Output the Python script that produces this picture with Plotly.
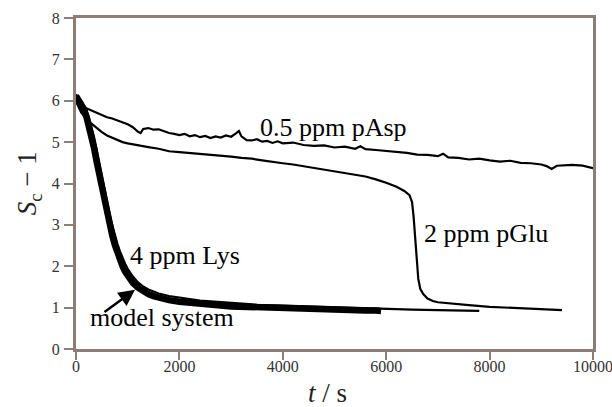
import plotly.graph_objects as go

# ---- data ----
pasp_t = [0, 50, 100, 200, 300, 400, 500, 600, 700, 800, 900, 1000, 1100, 1200, 1250, 1300, 1400, 1500,
          1600, 1700, 1800, 1900, 2000, 2100, 2200, 2300, 2400, 2500, 2600, 2700, 2800, 2900, 3000, 3100,
          3150, 3200, 3300, 3400, 3500, 3600, 3700, 3800, 3900, 4000, 4200, 4400, 4600, 4800, 5000, 5200,
          5400, 5500, 5600, 5800, 6000, 6200, 6400, 6600, 6800, 7000, 7100, 7200, 7400, 7600, 7800, 8000,
          8200, 8400, 8600, 8800, 9000, 9100, 9200, 9300, 9400, 9600, 9800, 10000]
pasp_v = [6.02, 5.95, 5.90, 5.82, 5.76, 5.70, 5.66, 5.60, 5.57, 5.52, 5.47, 5.43, 5.36, 5.25, 5.22, 5.32, 5.34, 5.30,
          5.31, 5.26, 5.22, 5.20, 5.17, 5.20, 5.14, 5.17, 5.12, 5.15, 5.10, 5.14, 5.11, 5.16, 5.13, 5.22,
          5.27, 5.14, 5.05, 5.04, 5.07, 5.01, 5.03, 4.98, 5.02, 4.97, 4.99, 4.93, 4.91, 4.92, 4.87, 4.89,
          4.84, 4.90, 4.83, 4.81, 4.79, 4.77, 4.74, 4.70, 4.69, 4.66, 4.72, 4.63, 4.62, 4.58, 4.60, 4.56,
          4.53, 4.55, 4.50, 4.49, 4.46, 4.42, 4.35, 4.43, 4.44, 4.45, 4.43, 4.37]

pglu_t = [0, 50, 100, 200, 300, 400, 500, 600, 700, 800, 900, 1000, 1200, 1400, 1600, 1800, 2000, 2200,
          2400, 2600, 2800, 3000, 3200, 3400, 3600, 3800, 4000, 4200, 4400, 4600, 4800, 5000, 5200, 5400,
          5600, 5800, 6000, 6200, 6350, 6450, 6500, 6530, 6560, 6590, 6620, 6660, 6720, 6800, 6900, 7000,
          7300, 7600, 8000, 8500, 9000, 9400]
pglu_v = [5.98, 5.85, 5.72, 5.55, 5.45, 5.33, 5.24, 5.16, 5.10, 5.05, 5.00, 4.97, 4.92, 4.88, 4.84, 4.78, 4.76, 4.74,
          4.72, 4.70, 4.68, 4.65, 4.62, 4.60, 4.56, 4.52, 4.49, 4.46, 4.42, 4.38, 4.34, 4.30, 4.26, 4.22,
          4.17, 4.10, 4.02, 3.92, 3.82, 3.72, 3.55, 3.20, 2.70, 2.15, 1.70, 1.45, 1.32, 1.22, 1.16, 1.13,
          1.09, 1.06, 1.02, 0.99, 0.96, 0.94]

model_t = [0, 50, 100, 150, 200, 250, 300, 350, 400, 450, 500, 550, 600, 650, 700, 750, 800, 850, 900, 950,
           1000, 1100, 1200, 1300, 1400, 1500, 1600, 1800, 2000, 2200, 2400, 2600, 2800, 3000, 3200, 3400,
           3600, 3800, 4000, 4200, 4400, 4600, 4800, 5000, 5200, 5400, 5600, 5800, 5900]
model_v = [6.12, 6.02, 5.92, 5.80, 5.62, 5.40, 5.15, 4.85, 4.52, 4.20, 3.88, 3.58, 3.28, 3.00, 2.75, 2.52, 2.32, 2.15, 2.00, 1.87,
           1.76, 1.60, 1.48, 1.39, 1.33, 1.28, 1.24, 1.18, 1.14, 1.11, 1.09, 1.07, 1.05, 1.03, 1.02, 1.01,
           1.00, 0.99, 0.98, 0.98, 0.97, 0.96, 0.96, 0.95, 0.94, 0.94, 0.93, 0.93, 0.92]

lys_t = [0, 50, 100, 150, 200, 250, 300, 350, 400, 450, 500, 550, 600, 650, 700, 750, 800, 850, 900, 950,
         1000, 1100, 1200, 1300, 1400, 1500, 1600, 1800, 2000, 2200, 2400, 2600, 2800, 3000, 3500, 4000,
         4500, 5000, 5500, 6000, 6500, 7000, 7500, 7800]
lys_v = [6.15, 6.08, 6.00, 5.90, 5.78, 5.60, 5.38, 5.12, 4.82, 4.50, 4.18, 3.86, 3.56, 3.27, 3.00, 2.76, 2.55, 2.36, 2.20, 2.06,
         1.94, 1.75, 1.61, 1.51, 1.44, 1.38, 1.34, 1.28, 1.24, 1.20, 1.17, 1.15, 1.13, 1.11, 1.07, 1.05,
         1.03, 1.00, 0.98, 0.96, 0.95, 0.94, 0.93, 0.92]

x_ticks = [0, 2000, 4000, 6000, 8000, 10000]
y_ticks = [0, 1, 2, 3, 4, 5, 6, 7, 8]

FONT = "Liberation Serif"
FRAME = "#8a7e77"

fig = go.Figure()
fig.add_trace(go.Scatter(x=pasp_t, y=pasp_v, mode="lines", line=dict(color="black", width=2.2), name="0.5 ppm pAsp"))
fig.add_trace(go.Scatter(x=pglu_t, y=pglu_v, mode="lines", line=dict(color="black", width=2.2), name="2 ppm pGlu"))
fig.add_trace(go.Scatter(x=model_t, y=model_v, mode="lines", line=dict(color="black", width=6.5), name="model system"))
fig.add_trace(go.Scatter(x=lys_t, y=lys_v, mode="lines", line=dict(color="black", width=2.2), name="4 ppm Lys"))

ann_font = dict(family=FONT, size=26, color="black")
tick_font = dict(family=FONT, size=16, color="#333333")
fig.update_layout(
    width=612, height=407,
    margin=dict(l=76, r=19, t=18, b=58, autoexpand=False),
    paper_bgcolor="white", plot_bgcolor="white",
    showlegend=False,
    xaxis=dict(range=[0, 10000], tickvals=x_ticks, ticktext=[str(v) for v in x_ticks],
               showgrid=False, zeroline=False, showline=True, linecolor=FRAME, linewidth=3, mirror=True,
               ticks="outside", ticklen=8, tickwidth=1.5, tickcolor=FRAME, ticklabeloverflow="allow",
               ticklabelstandoff=-7, automargin=False, tickfont=tick_font),
    yaxis=dict(range=[0, 8], tickvals=y_ticks, ticktext=[str(v) for v in y_ticks],
               showgrid=False, zeroline=False, showline=True, linecolor=FRAME, linewidth=3, mirror=True,
               ticks="outside", ticklen=9, tickwidth=1.5, tickcolor=FRAME, ticklabeloverflow="allow",
               ticklabelstandoff=1, automargin=False, tickfont=tick_font),
    annotations=[
        dict(x=4990, y=5.36, xref="x", yref="y", text="0.5 ppm pAsp", showarrow=False, font=ann_font),
        dict(x=7930, y=2.8, xref="x", yref="y", text="2 ppm pGlu", showarrow=False, font=ann_font),
        dict(x=2108, y=2.27, xref="x", yref="y", text="4 ppm Lys", showarrow=False, font=ann_font),
        dict(x=1663, y=0.75, xref="x", yref="y", text="model system", showarrow=False, font=ann_font),
        dict(x=1141, y=1.43, xref="x", yref="y", ax=522, ay=0.87, axref="x", ayref="y", text="",
             showarrow=True, arrowhead=2, arrowsize=1.3, arrowwidth=2.5, arrowcolor="black"),
        dict(x=-0.128, y=0.5, xref="paper", yref="paper", text="<i>S</i><sub>c</sub> − 1", textangle=-90,
             showarrow=False, font=dict(family=FONT, size=27, color="#222222")),
        dict(x=0.487, y=-0.184, xref="paper", yref="paper", text="<i>t</i> / s",
             showarrow=False, font=dict(family=FONT, size=27, color="#222222")),
    ],
)

fig.write_html("out.html")
